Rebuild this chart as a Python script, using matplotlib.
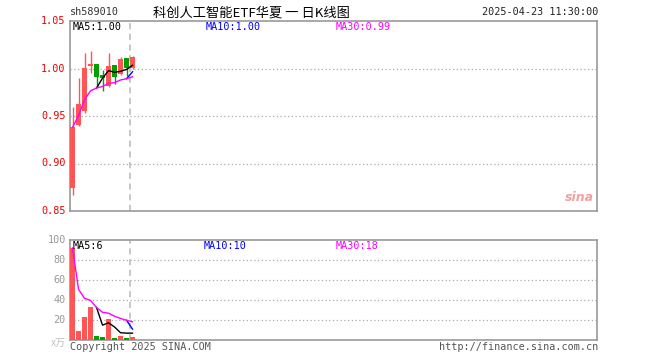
import matplotlib
matplotlib.use("Agg")
import matplotlib.pyplot as plt
import numpy as np
import pandas as pd

code = "sh589010"
title = "科创人工智能ETF华夏 一 日K线图"
stamp = "2025-04-23 11:30:00"
last_date = "2025-04-23"

opens = [0.874, 0.941, 0.955, 1.003, 1.005, 0.993, 0.982, 1.004, 0.994, 1.011, 1.001]
highs = [0.960, 0.990, 1.016, 1.018, 1.005, 0.998, 1.016, 1.004, 1.012, 1.011, 1.013]
lows = [0.867, 0.940, 0.953, 0.995, 0.981, 0.976, 0.981, 0.984, 0.993, 0.992, 1.000]
closes = [0.938, 0.963, 1.000, 1.005, 0.991, 0.990, 1.003, 0.991, 1.010, 1.001, 1.012]
volumes = [92, 9, 23, 33, 4, 3, 21, 2, 4, 2, 3]

price_ticks = [0.85, 0.90, 0.95, 1.00, 1.05]
vol_ticks = [20, 40, 60, 80, 100]

RED = "#ff5555"
GREEN = "#00a000"
GRID = "#aaaaaa"
BORDER = "#999999"
MONO = ["DejaVu Sans Mono"]
CJK = ["Noto Sans CJK SC", "DejaVu Sans"]
FS = 7.3

df = pd.DataFrame({"open": opens, "high": highs, "low": lows,
                   "close": closes, "vol": volumes})
x = np.arange(len(df))
up = df["close"] >= df["open"]
colors = [RED if u else GREEN for u in up]

# moving averages; the 30-day one runs as an expanding mean until 30 days exist
ma = {}
for col in ["close", "vol"]:
    ma[(col, 5)] = df[col].rolling(5).mean()
    ma[(col, 10)] = df[col].rolling(10).mean()
    ma[(col, 30)] = df[col].expanding().mean()
ma_colors = {5: "black", 10: "#0000ff", 30: "#ff00ff"}

fig = plt.figure(figsize=(6.6, 3.6), dpi=100)
ax = fig.add_axes([70 / 660, 1 - 211 / 360, 527 / 660, 190 / 360])
axv = fig.add_axes([70 / 660, 1 - 339.5 / 360, 527 / 660, 99.5 / 360])

xlim = (-0.42, -0.42 + 527 / 6)
split_x = x[-1] - 0.35

for a in (ax, axv):
    a.set_xlim(*xlim)
    a.set_xticks([])
    a.set_yticks([])
    for s in a.spines.values():
        s.set_color(BORDER)
        s.set_linewidth(1.2)
    a.axvline(split_x, color="#b8b8b8", lw=1.1, ls=(0, (4, 3)), zorder=1)

# price panel
ax.set_ylim(0.85, 1.05)
for t in price_ticks[1:-1]:
    ax.axhline(t, color=GRID, lw=0.9, ls=(0, (1, 2)), zorder=0)
for t in price_ticks:
    ax.text(-0.008, t, f"{t:.2f}", transform=ax.get_yaxis_transform(),
            ha="right", va="center", color="#ee0000", fontsize=FS, family=MONO)

body_lo = df[["open", "close"]].min(axis=1)
body_h = (df["close"] - df["open"]).abs().clip(lower=0.0012)
ax.vlines(x, df["low"], df["high"], colors=colors, lw=1.0, zorder=2)
ax.bar(x, body_h, bottom=body_lo, width=0.84, color=colors, zorder=3)
for n in (5, 10, 30):
    ax.plot(x, ma[("close", n)], color=ma_colors[n], lw=1.0, zorder=4)

for n, px in ((5, 73), (10, 206), (30, 336)):
    fig.text(px / 660, 1 - 27 / 360, f"MA{n}:{ma[('close', n)].iloc[-1]:.2f}",
             color=ma_colors[n], fontsize=FS, family=MONO, va="center")

ax.text(split_x, 0.85 - 0.0475, last_date, ha="center", va="center",
        color="#0a7fd6", fontsize=FS, family=MONO)
ax.text(0.995, 0.07, "sina", transform=ax.transAxes, ha="right", va="center",
        color="#f2a0a0", fontsize=9, fontweight="bold", style="italic")

# volume panel
axv.set_ylim(0, 100)
for t in vol_ticks[:-1]:
    axv.axhline(t, color=GRID, lw=0.9, ls=(0, (1, 2)), zorder=0)
for t in vol_ticks:
    axv.text(-0.008, t, f"{t}", transform=axv.get_yaxis_transform(),
             ha="right", va="center", color="#999999", fontsize=FS, family=MONO)
axv.text(-0.008, -3, "x万", transform=axv.get_yaxis_transform(),
         ha="right", va="center", color="#c0c0c0", fontsize=FS, family=CJK)
axv.bar(x, df["vol"], width=0.84, color=colors, zorder=3)
for n in (5, 10, 30):
    axv.plot(x, ma[("vol", n)], color=ma_colors[n], lw=1.0, zorder=4)

for n, px in ((5, 73), (10, 204), (30, 336)):
    fig.text(px / 660, 1 - 246 / 360, f"MA{n}:{ma[('vol', n)].iloc[-1]:.0f}",
             color=ma_colors[n], fontsize=FS, family=MONO, va="center")

# header and footer
fig.text(70 / 660, 1 - 12 / 360, code, color="#333333", fontsize=FS,
         family=MONO, va="center")
fig.text(251 / 660, 1 - 13 / 360, title, color="black", fontsize=9.5,
         family=CJK, va="center", ha="center")
fig.text(598 / 660, 1 - 12 / 360, stamp, color="#222222", fontsize=FS,
         family=MONO, va="center", ha="right")
fig.text(70 / 660, 1 - 347 / 360, "Copyright 2025 SINA.COM", color="#555555",
         fontsize=FS, family=MONO, va="center")
fig.text(598 / 660, 1 - 347 / 360, "http://finance.sina.com.cn", color="#555555",
         fontsize=FS, family=MONO, va="center", ha="right")

fig.savefig("out.png", dpi=100)
plt.close(fig)
